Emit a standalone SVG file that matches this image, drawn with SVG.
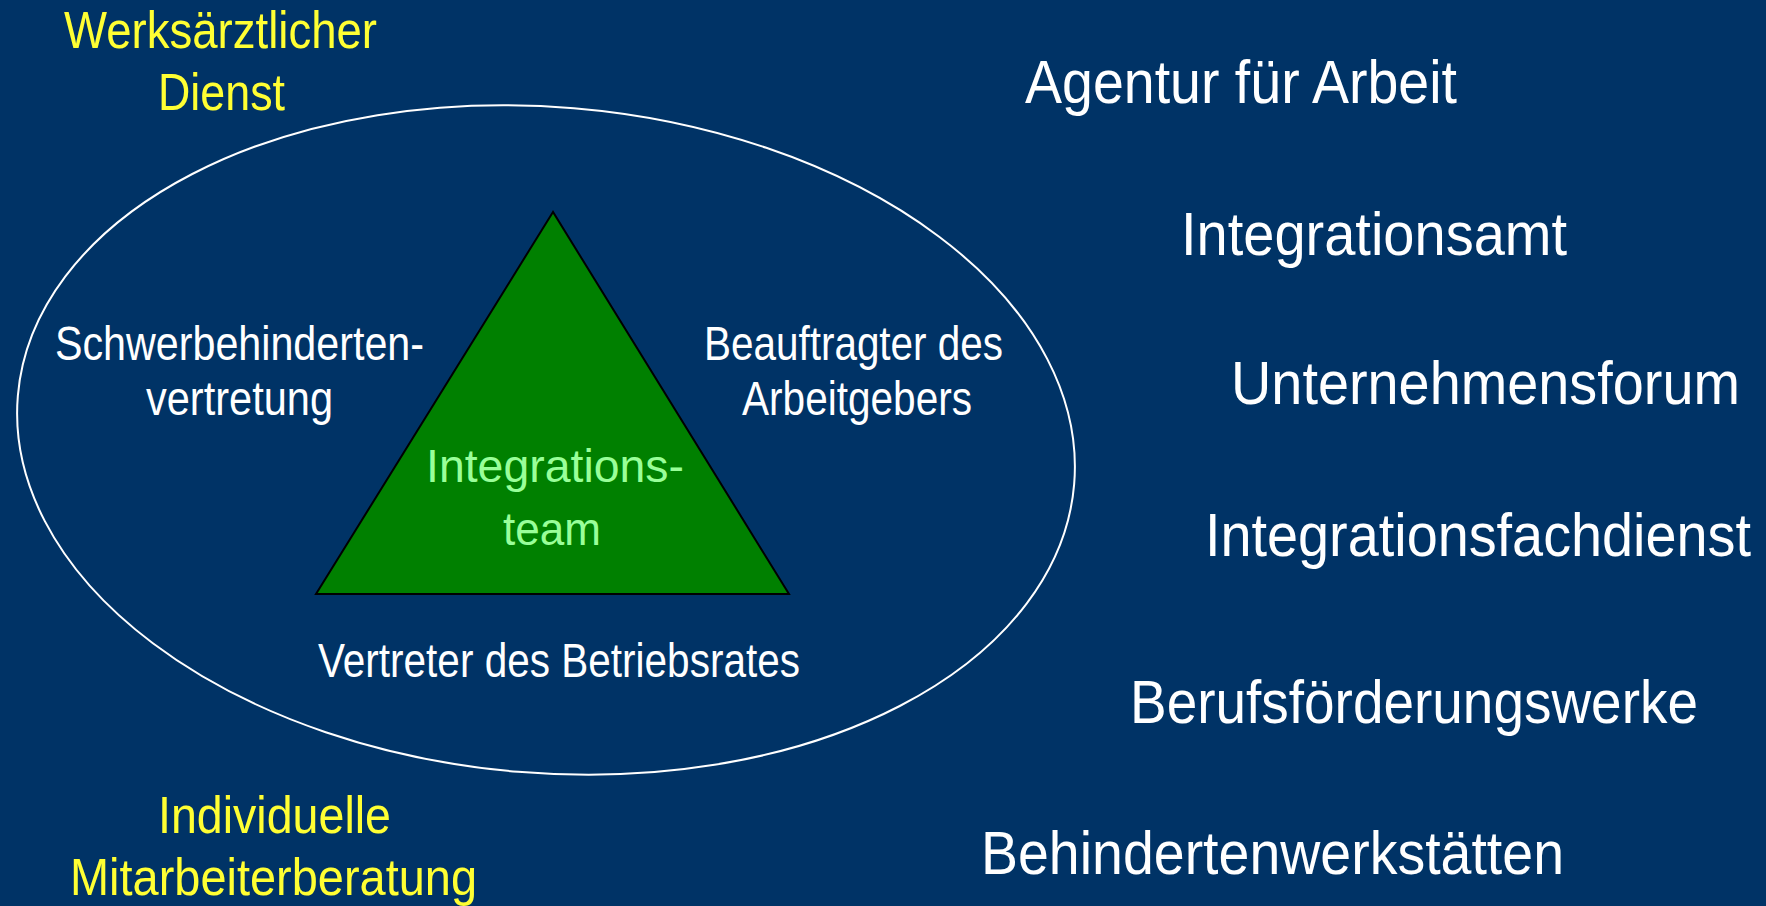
<svg xmlns="http://www.w3.org/2000/svg" width="1766" height="906" viewBox="0 0 1766 906">
<style>
text{font-family:"Liberation Sans Narrow","Liberation Sans",Arial,sans-serif;}
.w{fill:#ffffff;}
.y{fill:#ffff33;}
.g{fill:#99ff99;}
.big{font-size:62px;}
.mid{font-size:48px;}
.yel{font-size:52px;}
.e{text-anchor:end;}
</style>
<rect x="0" y="0" width="1766" height="906" fill="#003366"/>
<g id="outer-ellipse">
<ellipse cx="546" cy="440" rx="530" ry="333" transform="rotate(4.8 546 440)" fill="none" stroke="#ffffff" stroke-width="2"/>
</g>
<g id="integrationsteam">
<polygon points="553,212 316,594 789,594" fill="#008000" stroke="#000000" stroke-width="2"/>
<text class="g" font-size="46" x="426" y="482" textLength="258" lengthAdjust="spacingAndGlyphs">Integrations-</text>
<text class="g" font-size="46" x="503" y="545" textLength="98" lengthAdjust="spacingAndGlyphs">team</text>
</g>
<g id="schwerbehindertenvertretung">
<text class="w mid" x="55" y="360" textLength="369" lengthAdjust="spacingAndGlyphs">Schwerbehinderten-</text>
<text class="w mid" x="146" y="415" textLength="187" lengthAdjust="spacingAndGlyphs">vertretung</text>
</g>
<g id="beauftragter">
<text class="w mid" x="704" y="360" textLength="299" lengthAdjust="spacingAndGlyphs">Beauftragter des</text>
<text class="w mid" x="742" y="415" textLength="230" lengthAdjust="spacingAndGlyphs">Arbeitgebers</text>
</g>
<g id="betriebsrat">
<text class="w mid" x="318" y="677" textLength="482" lengthAdjust="spacingAndGlyphs">Vertreter des Betriebsrates</text>
</g>
<g id="werksaerztlicher-dienst">
<text class="y yel" x="64" y="48" textLength="313" lengthAdjust="spacingAndGlyphs">Werksärztlicher</text>
<text class="y yel" x="158" y="110" textLength="127" lengthAdjust="spacingAndGlyphs">Dienst</text>
</g>
<g id="mitarbeiterberatung">
<text class="y yel" x="158" y="833" textLength="233" lengthAdjust="spacingAndGlyphs">Individuelle</text>
<text class="y yel" x="70" y="895" textLength="407" lengthAdjust="spacingAndGlyphs">Mitarbeiterberatung</text>
</g>
<g id="agentur">
<text class="w big e" x="1457" y="103" textLength="432" lengthAdjust="spacingAndGlyphs">Agentur für Arbeit</text>
</g>
<g id="integrationsamt">
<text class="w big e" x="1567" y="255" textLength="386" lengthAdjust="spacingAndGlyphs">Integrationsamt</text>
</g>
<g id="unternehmensforum">
<text class="w big e" x="1740" y="404" textLength="509" lengthAdjust="spacingAndGlyphs">Unternehmensforum</text>
</g>
<g id="integrationsfachdienst">
<text class="w big e" x="1751" y="556" textLength="546" lengthAdjust="spacingAndGlyphs">Integrationsfachdienst</text>
</g>
<g id="berufsfoerderungswerke">
<text class="w big e" x="1698" y="723" textLength="568" lengthAdjust="spacingAndGlyphs">Berufsförderungswerke</text>
</g>
<g id="behindertenwerkstaetten">
<text class="w big e" x="1564" y="874" textLength="583" lengthAdjust="spacingAndGlyphs">Behindertenwerkstätten</text>
</g>
<g id="connectors"></g>
</svg>
